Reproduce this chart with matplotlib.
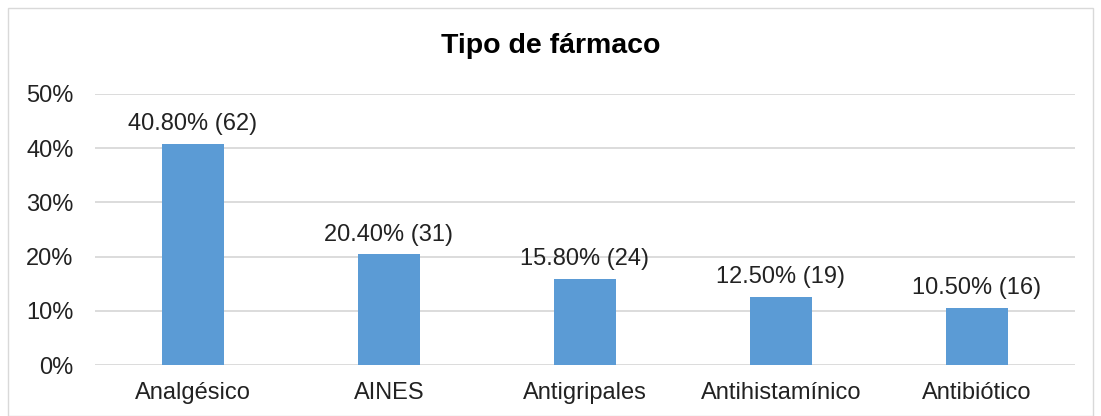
import matplotlib.pyplot as plt
from matplotlib.patches import Rectangle

categorias = ['Analgésico', 'AINES', 'Antigripales', 'Antihistamínico', 'Antibiótico']
porcentajes = [40.8, 20.4, 15.8, 12.5, 10.5]
conteos = [62, 31, 24, 19, 16]
yticks = [0, 10, 20, 30, 40, 50]

plt.rcParams['font.family'] = ['Liberation Sans', 'DejaVu Sans']

fig = plt.figure(figsize=(11.01, 4.16), dpi=100)
ax = fig.add_axes([95 / 1101, 51 / 416, 980 / 1101, 271 / 416])

x = range(len(categorias))
ax.bar(x, porcentajes, width=0.315, color='#5B9BD5', zorder=2)

for i, (p, c) in enumerate(zip(porcentajes, conteos)):
    ax.annotate(f'{p:.2f}% ({c})', (i, p), xytext=(0, 10), textcoords='offset points',
                ha='center', va='baseline', fontsize=17, color='#222222')

ax.set_xlim(-0.5, len(categorias) - 0.5)
ax.set_ylim(0, 50)
ax.set_yticks(yticks)
ax.set_yticklabels([f'{t}%' for t in yticks])
ax.set_xticks(list(x))
ax.set_xticklabels(categorias)
ax.tick_params(axis='both', length=0, labelsize=17, colors='#222222')
ax.tick_params(axis='x', pad=12)
ax.tick_params(axis='y', pad=15.5)
ax.yaxis.grid(True, color='#D9D9D9', linewidth=1.3, zorder=0)
for s in ax.spines.values():
    s.set_visible(False)

fig.text(0.5, 1 - 46 / 416, 'Tipo de fármaco', ha='center', va='center',
         fontsize=20.5, fontweight='bold', color='#000000')

fig.patches.append(Rectangle((8 / 1101, 0), 1085 / 1101, 408 / 416, transform=fig.transFigure,
                             fill=False, edgecolor='#D9D9D9', linewidth=1))

fig.savefig('out.png', dpi=100)
